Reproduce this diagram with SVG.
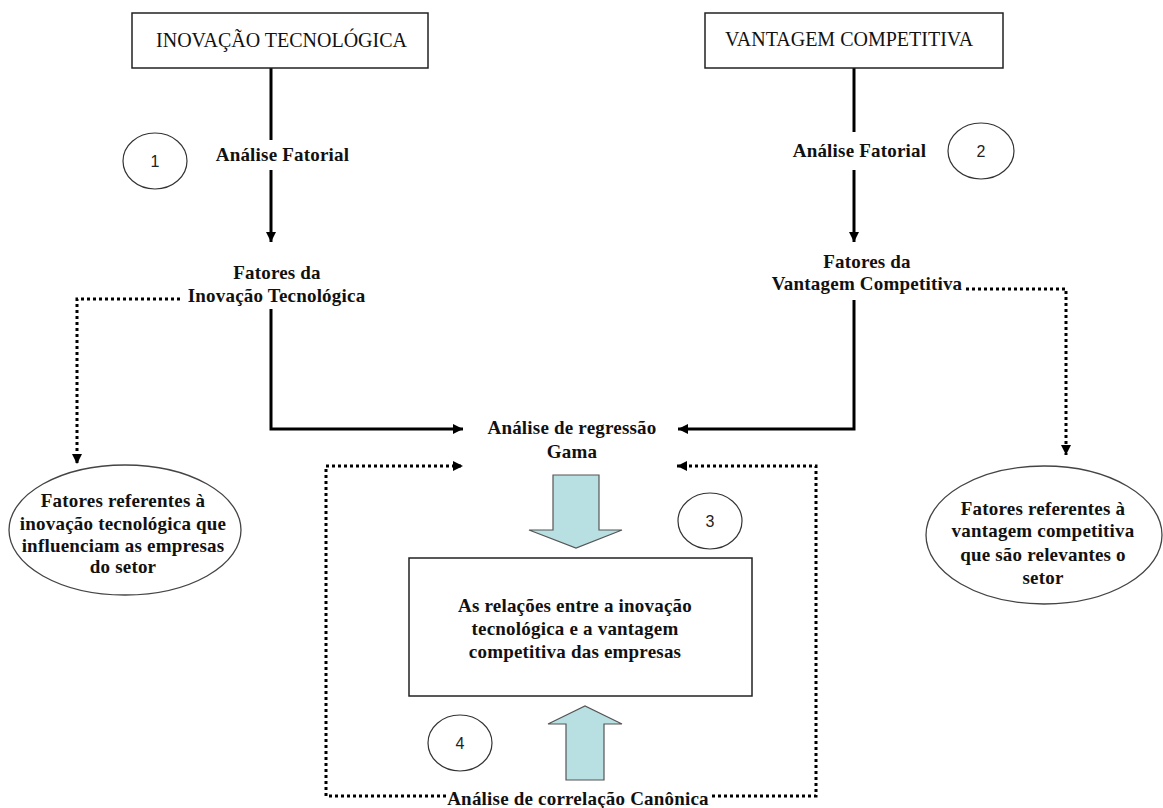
<svg xmlns="http://www.w3.org/2000/svg" width="1163" height="808" viewBox="0 0 1163 808">
<style>
.box{fill:#fff;stroke:#222;stroke-width:1.5}
.circ{fill:#fff;stroke:#333;stroke-width:1.2}
.ell{fill:#fff;stroke:#444;stroke-width:1.3}
.title{font-family:"Liberation Serif",serif;font-size:20px;fill:#111;text-anchor:middle}
.lbl{font-family:"Liberation Serif",serif;font-size:19px;font-weight:bold;fill:#111;text-anchor:middle;letter-spacing:0.2px}
.num{font-family:"Liberation Sans",sans-serif;font-size:16px;fill:#222;text-anchor:middle}
.solid{fill:none;stroke:#000;stroke-width:3}
.dot{fill:none;stroke:#000;stroke-width:3;stroke-dasharray:3 3}
.blue{fill:#b8dfe2;stroke:#555;stroke-width:1.2}
</style>
<defs>
<marker id="ah" markerUnits="userSpaceOnUse" markerWidth="12" markerHeight="12" refX="10" refY="5" orient="auto">
<path d="M0,0 L10,5 L0,10 z" fill="#000"/>
</marker>
</defs>
<rect width="1163" height="808" fill="#fff"/>

<g id="connectors">
<path class="solid" d="M271 68 V140"/>
<path class="solid" d="M271 170 V242" marker-end="url(#ah)"/>
<path class="solid" d="M854 68 V132"/>
<path class="solid" d="M854 170 V242" marker-end="url(#ah)"/>
<path class="solid" d="M271 309 V429 H463" marker-end="url(#ah)"/>
<path class="solid" d="M854 300 V429 H678" marker-end="url(#ah)"/>
<path class="dot" d="M180 299 H77 V464" marker-end="url(#ah)"/>
<path class="dot" d="M966 289 H1066 V455" marker-end="url(#ah)"/>
<path class="dot" d="M446 796 H326 V466 H463" marker-end="url(#ah)"/>
<path class="dot" d="M712 796 H816 V466 H677" marker-end="url(#ah)"/>
<polygon class="blue" points="553,475 599,475 599,530 622,530 576,548 529,530 553,530"/>
<polygon class="blue" points="566,780 604,780 604,724 622,724 585,706 548,724 566,724"/>
</g>

<g id="node-inovacao">
<rect class="box" x="132" y="13" width="296" height="55"/>
<text class="title" x="281.5" y="47">INOVAÇÃO TECNOLÓGICA</text>
</g>
<g id="node-vantagem">
<rect class="box" x="705" y="13" width="298" height="55"/>
<text class="title" x="849" y="46">VANTAGEM COMPETITIVA</text>
</g>
<g id="label-af1">
<text class="lbl" x="282.5" y="161">Análise Fatorial</text>
</g>
<g id="label-af2">
<text class="lbl" x="859.5" y="157">Análise Fatorial</text>
</g>
<g id="circle-1">
<ellipse class="circ" cx="155" cy="161" rx="32" ry="28"/>
<text class="num" x="155" y="167">1</text>
</g>
<g id="circle-2">
<ellipse class="circ" cx="981" cy="151" rx="33" ry="28"/>
<text class="num" x="981" y="157">2</text>
</g>
<g id="node-fatores-inovacao">
<text class="lbl" x="277" y="279">Fatores da</text>
<text class="lbl" x="276.5" y="302">Inovação Tecnológica</text>
</g>
<g id="node-fatores-vantagem">
<text class="lbl" x="867" y="268">Fatores da</text>
<text class="lbl" x="867" y="290">Vantagem Competitiva</text>
</g>
<g id="node-regressao">
<text class="lbl" x="572" y="434">Análise de regressão</text>
<text class="lbl" x="572" y="458">Gama</text>
</g>
<g id="node-ellipse-left">
<ellipse class="ell" cx="125" cy="530" rx="116" ry="65"/>
<text class="lbl" x="123" y="507">Fatores referentes à</text>
<text class="lbl" x="123" y="530">inovação tecnológica que</text>
<text class="lbl" x="123" y="552">influenciam as empresas</text>
<text class="lbl" x="123" y="573">do setor</text>
</g>
<g id="node-ellipse-right">
<ellipse class="ell" cx="1044" cy="535" rx="118" ry="69"/>
<text class="lbl" x="1043" y="515">Fatores referentes à</text>
<text class="lbl" x="1043" y="537">vantagem competitiva</text>
<text class="lbl" x="1043" y="561">que são relevantes o</text>
<text class="lbl" x="1043" y="584">setor</text>
</g>
<g id="circle-3">
<ellipse class="circ" cx="710" cy="521" rx="32" ry="28"/>
<text class="num" x="710" y="527">3</text>
</g>
<g id="node-relacoes">
<rect class="box" x="409" y="558" width="343" height="138"/>
<text class="lbl" x="575" y="612">As relações entre a inovação</text>
<text class="lbl" x="575" y="635">tecnológica e a vantagem</text>
<text class="lbl" x="575" y="658">competitiva das empresas</text>
</g>
<g id="circle-4">
<ellipse class="circ" cx="460" cy="743" rx="32" ry="28"/>
<text class="num" x="460" y="749">4</text>
</g>
<g id="node-canonica">
<text class="lbl" x="578" y="805">Análise de correlação Canônica</text>
</g>
</svg>
